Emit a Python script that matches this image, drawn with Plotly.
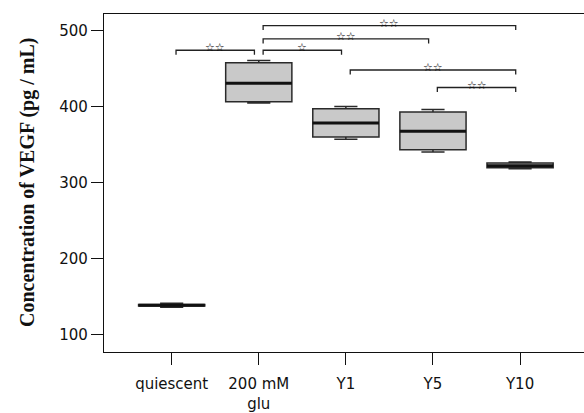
import plotly.graph_objects as go

# ---- data ----
categories = ["quiescent", "200 mM<br>glu", "Y1", "Y5", "Y10"]
lower_fence = [136.0, 404.7, 357.0, 340.0, 318.0]
q1_vals = [137.5, 406.4, 360.0, 343.0, 319.5]
medians = [138.5, 430.7, 378.3, 367.4, 322.0]
q3_vals = [139.5, 457.6, 396.9, 392.6, 325.5]
upper_fence = [141.0, 460.6, 400.0, 396.0, 327.0]

# significance comparisons: (from index, to index, height, label)
comparisons = [
    (0, 1, 474, "☆☆"),
    (1, 2, 474, "☆"),
    (1, 3, 489, "☆☆"),
    (1, 4, 506.5, "☆☆"),
    (2, 4, 448, "☆☆"),
    (3, 4, 425, "☆☆"),
]

y_ticks = [100, 200, 300, 400, 500]

BOX_W = 0.76
fig = go.Figure()

for i in range(len(categories)):
    fig.add_trace(go.Box(
        x=[i], q1=[q1_vals[i]], median=[medians[i]], q3=[q3_vals[i]],
        lowerfence=[lower_fence[i]], upperfence=[upper_fence[i]],
        width=BOX_W, whiskerwidth=0.35,
        fillcolor="#c9c9c9", line=dict(color="#2a2a2a", width=1.5),
        boxpoints=False, showlegend=False, hoverinfo="skip",
    ))
    fig.add_trace(go.Scatter(
        x=[i - BOX_W / 2, i + BOX_W / 2], y=[medians[i], medians[i]],
        mode="lines", line=dict(color="#111", width=3),
        showlegend=False, hoverinfo="skip",
    ))

OFF = 0.05
TICK = 6
for a, b, h, lab in comparisons:
    xa, xb = a + OFF, b - OFF
    fig.add_trace(go.Scatter(
        x=[xa, xa, xb, xb], y=[h - TICK, h, h, h - TICK],
        mode="lines", line=dict(color="#222", width=1.3),
        showlegend=False, hoverinfo="skip",
    ))
    fig.add_annotation(
        x=(xa + xb) / 2, y=h, text="<b>" + lab + "</b>", showarrow=False,
        yanchor="bottom", yshift=-6,
        font=dict(family="DejaVu Sans", size=11, color="#000"),
    )

fig.add_annotation(
    x=-(104 - 27) / 480, y=0.5, xref="paper", yref="paper",
    text="<b>Concentration of VEGF (pg / mL)</b>", textangle=-90,
    showarrow=False, xanchor="center", yanchor="middle",
    font=dict(family="Liberation Serif", size=20, color="#111"),
)

fig.update_layout(
    width=584, height=413,
    margin=dict(l=104, r=0, t=14, b=57),
    paper_bgcolor="white", plot_bgcolor="white",
    font=dict(family="DejaVu Sans", size=15, color="#111"),
    xaxis=dict(
        range=[-0.777, 4.734], tickmode="array",
        tickvals=list(range(len(categories))), ticktext=categories,
        showgrid=False, zeroline=False, showline=True, linecolor="#111",
        linewidth=1.2, mirror=True, ticks="outside", ticklen=12,
        tickcolor="#111", tickwidth=1.2, ticklabelstandoff=6,
    ),
    yaxis=dict(
        range=[77.0, 521.7], tickmode="array", tickvals=y_ticks,
        showgrid=False, zeroline=False, showline=True, linecolor="#111",
        linewidth=1.2, mirror=False, ticks="outside", ticklen=12,
        tickcolor="#111", tickwidth=1.2,
    ),
)

fig.write_html("out.html")
